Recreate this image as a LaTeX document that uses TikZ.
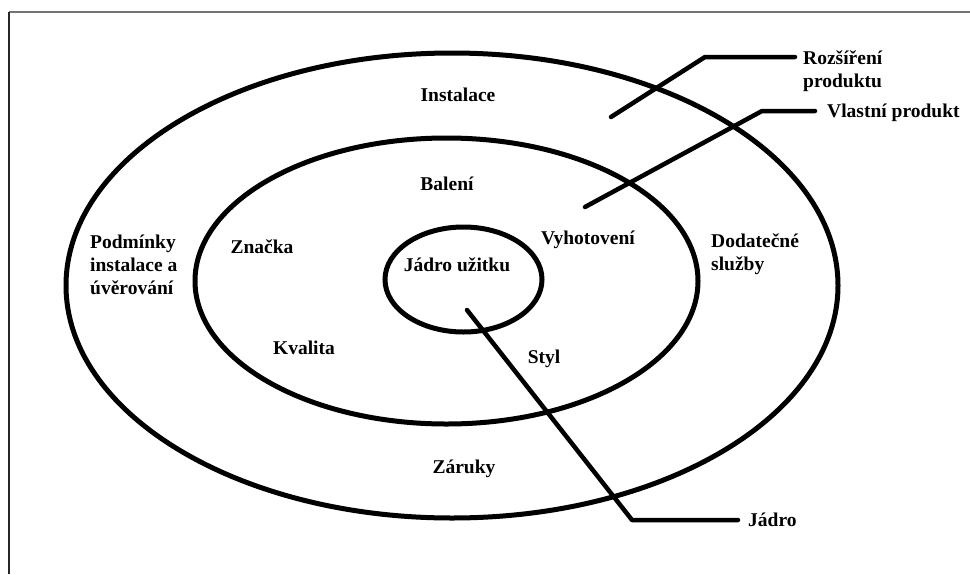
\documentclass[tikz,border=0pt]{standalone}
\usepackage{fontspec}
\setmainfont{Liberation Serif}
\usetikzlibrary{shapes.geometric}
\tikzset{
  ring/.style={draw, ellipse, line width=5pt, inner sep=0pt},
  leader/.style={draw, line width=4.5pt, line cap=round, line join=round},
  lbl/.style={inner sep=0pt, font=\bfseries\fontsize{19.5}{23}\selectfont, anchor=base},
  lblw/.style={lbl, anchor=base west}
}
\begin{document}
\begin{tikzpicture}[x=1pt,y=-1pt]
\useasboundingbox (0,0) rectangle (970,574);
% frame (partly visible)
\draw[line width=1.5pt, black!55] (9,12) -- (970,12);
\draw[line width=1.5pt, black!85] (9,12) -- (9,574);
% rings
\node[ring, minimum width=772pt, minimum height=465pt] (outer) at (452,285.5) {};
\node[ring, minimum width=503pt, minimum height=286pt] (middle) at (446.5,281) {};
\node[ring, minimum width=157pt, minimum height=105pt] (inner) at (463.5,279.5) {};
% labels inside
\node[lbl] (instalace) at (458,101.5) {Instalace};
\node[lbl] (baleni) at (447,190.5) {Balení};
\node[lbl] (znacka) at (262,253.5) {Značka};
\node[lbl] (kvalita) at (304,354.5) {Kvalita};
\node[lbl] (jadrouz) at (457,271.5) {Jádro užitku};
\node[lbl] (vyhot) at (588,244.5) {Vyhotovení};
\node[lbl] (styl) at (544,363.5) {Styl};
\node[lbl] (zaruky) at (464,473.5) {Záruky};
\node[lblw] (podminky) at (90,248.5) {\begin{tabular}[t]{@{}l@{}}Podmínky\\instalace a\\úvěrování\end{tabular}};
\node[lblw] (dodatecne) at (711,247.5) {\begin{tabular}[t]{@{}l@{}}Dodatečné\\služby\end{tabular}};
% outside labels
\node[lblw] (rozsireni) at (803,64.5) {\begin{tabular}[t]{@{}l@{}}Rozšíření\\produktu\end{tabular}};
\node[lblw] (vlastni) at (827,117.5) {Vlastní produkt};
\node[lblw] (jadro) at (748,526.5) {Jádro};
% leader coordinates
\coordinate (r1) at (611,117);
\coordinate (r2) at (705,57);
\coordinate (r3) at (795,57);
\coordinate (v1) at (585,207);
\coordinate (v2) at (762,111);
\coordinate (v3) at (815,111);
\coordinate (j1) at (467,310);
\coordinate (j2) at (632,520);
\coordinate (j3) at (738,520);
\draw[leader] (r1) -- (r2) -- (r3);
\draw[leader] (v1) -- (v2) -- (v3);
\draw[leader] (j1) -- (j2) -- (j3);
\end{tikzpicture}
\end{document}
